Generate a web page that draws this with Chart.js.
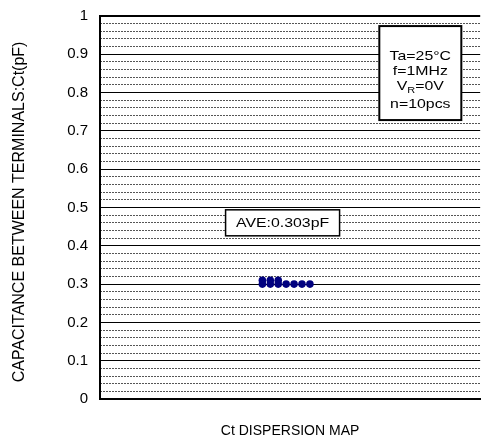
<!DOCTYPE html>
<html>
<head>
<meta charset="utf-8">
<script src="https://cdn.jsdelivr.net/npm/chart.js@4"></script>
<style>
    html, body { margin: 0; padding: 0; background: #fff; overflow: hidden; }
    #wrap { width: 484px; height: 446px; }
</style>
</head>
<body>
<div id="wrap"><canvas id="ctChart"></canvas></div>
<script>
// sample slot (horizontal spread) and measured Ct (pF) for the 10 pieces
const xSlots = [1, 1, 2, 2, 3, 3, 4, 5, 6, 7];
const ctValues = [0.31, 0.30, 0.31, 0.30, 0.31, 0.30, 0.30, 0.30, 0.30, 0.30];
const yTicks = [0, 0.1, 0.2, 0.3, 0.4, 0.5, 0.6, 0.7, 0.8, 0.9, 1];
const aveText = 'AVE:0.303pF';
const condLines = ['Ta=25°C', 'f=1MHz', 'V_R=0V', 'n=10pcs'];

const FONT = '"Liberation Sans", Arial, sans-serif';
const STRETCH = 1.22; // the original labels are drawn slightly wide

const points = xSlots.map((x, i) => ({ x: x, y: ctValues[i] }));

function wideText(c, text, x, y, size) {
    c.save();
    c.font = size + 'px ' + FONT;
    c.translate(x, y);
    c.scale(STRETCH, 1);
    c.fillText(text, 0, 0);
    c.restore();
}

function wideWidth(c, text, size) {
    c.font = size + 'px ' + FONT;
    return c.measureText(text).width * STRETCH;
}

const boxesPlugin = {
    id: 'boxes',
    afterDraw(chart) {
        const c = chart.ctx;
        const xs = chart.scales.x, ys = chart.scales.y;
        c.save();
        c.strokeStyle = '#000';
        c.lineWidth = 1.5;
        c.textBaseline = 'middle';
        c.textAlign = 'left';

        // average box
        let cx = xs.getPixelForValue(3.55), cy = ys.getPixelForValue(0.46);
        let w = 114, h = 26;
        c.fillStyle = '#fff';
        c.fillRect(cx - w / 2, cy - h / 2, w, h);
        c.strokeRect(cx - w / 2, cy - h / 2, w, h);
        c.fillStyle = '#000';
        wideText(c, aveText, cx - wideWidth(c, aveText, 13) / 2, cy + 1, 13);

        // measurement conditions box
        cx = xs.getPixelForValue(20.94);
        cy = ys.getPixelForValue(0.851);
        w = 82; h = 94;
        const top = cy - h / 2;
        c.fillStyle = '#fff';
        c.fillRect(cx - w / 2, top, w, h);
        c.lineWidth = 2;
        c.strokeRect(cx - w / 2, top, w, h);
        c.fillStyle = '#000';
        const offs = [30, 45, 60, 78];
        condLines.forEach((t, i) => {
            const y = top + offs[i];
            if (t.indexOf('_') < 0) {
                wideText(c, t, cx - wideWidth(c, t, 13) / 2, y, 13);
                return;
            }
            // subscript text like V_R=0V
            const main = t.split('_')[0];
            const sub = t.split('_')[1].charAt(0);
            const rest = t.split('_')[1].slice(1);
            const w1 = wideWidth(c, main, 13), w2 = wideWidth(c, sub, 9), w3 = wideWidth(c, rest, 13);
            const x = cx - (w1 + w2 + w3) / 2;
            wideText(c, main, x, y, 13);
            wideText(c, sub, x + w1, y + 4, 9);
            wideText(c, rest, x + w1 + w2, y, 13);
        });
        c.restore();
    }
};

new Chart(document.getElementById('ctChart'), {
    type: 'scatter',
    data: {
        datasets: [{
            label: 'Ct',
            data: points,
            backgroundColor: '#00007f',
            borderWidth: 0,
            pointRadius: 3.8,
            pointHoverRadius: 3.8
        }]
    },
    options: {
        responsive: true,
        maintainAspectRatio: false,
        animation: false,
        events: [],
        layout: { padding: { top: 16, right: 0, bottom: 0, left: 0 } },
        plugins: {
            legend: { display: false },
            tooltip: { enabled: false }
        },
        scales: {
            x: {
                type: 'linear',
                min: -19.5,
                max: 28.5,
                grid: { display: false, drawTicks: false },
                border: { display: true, color: '#000', width: 2 },
                ticks: { display: false },
                title: {
                    display: true,
                    text: 'Ct DISPERSION MAP',
                    color: '#000',
                    font: { family: FONT, size: 14 },
                    padding: { top: 0, bottom: 6 }
                },
                afterFit(scale) { scale.height = 47; }
            },
            yMinor: {
                type: 'linear',
                position: 'left',
                min: 0,
                max: 1,
                ticks: { display: false, stepSize: 0.02 },
                grid: {
                    drawTicks: false,
                    color: ctx => (ctx.index % 5 === 0 ? 'rgba(0,0,0,0)' : '#555'),
                    lineWidth: 1
                },
                border: { display: false, dash: [2, 1] },
                afterFit(scale) { scale.width = 0; }
            },
            y: {
                type: 'linear',
                position: 'left',
                min: 0,
                max: 1,
                afterBuildTicks(scale) {
                    scale.ticks = yTicks.map(v => ({ value: v }));
                },
                ticks: {
                    color: '#000',
                    padding: 0,
                    font: { family: FONT, size: 15 },
                    callback: v => String(Math.round(v * 10) / 10)
                },
                grid: {
                    drawTicks: true,
                    tickLength: 12,
                    tickColor: 'rgba(0,0,0,0)',
                    color: '#000',
                    lineWidth: ctx => (ctx.tick && ctx.tick.value === 1 ? 2 : 1)
                },
                border: { display: true, color: '#000', width: 2 },
                title: {
                    display: true,
                    text: 'CAPACITANCE BETWEEN TERMINALS:Ct(pF)  ',
                    color: '#000',
                    font: { family: FONT, size: 16 },
                    padding: { top: 10, bottom: 0 }
                },
                afterFit(scale) { scale.width = 100; }
            }
        }
    },
    plugins: [boxesPlugin]
});
</script>
</body>
</html>
